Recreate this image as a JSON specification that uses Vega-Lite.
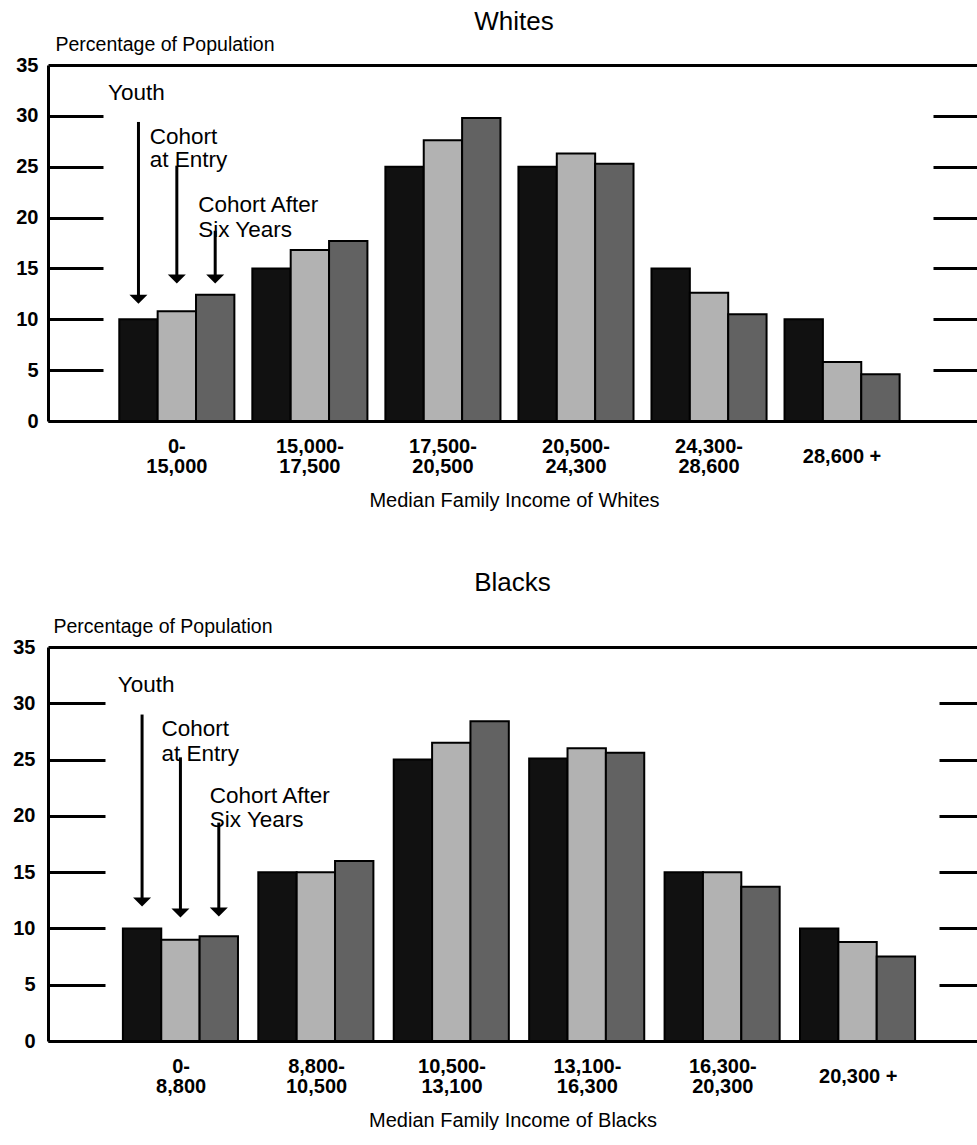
{
  "$schema": "https://vega.github.io/schema/vega-lite/v6.json",
  "background": "white",
  "padding": {"left": 12, "top": 9, "right": 0, "bottom": 0},
  "config": {
    "view": {"stroke": null},
    "font": "Liberation Sans",
    "axis": {"labelColor": "black", "titleColor": "black"},
    "title": {"color": "black"}
  },
  "datasets": {
    "whites": [
      {"income": "0-\n15,000", "group": "Youth", "pct": 10},
      {"income": "0-\n15,000", "group": "Cohort at Entry", "pct": 10.8},
      {"income": "0-\n15,000", "group": "Cohort After Six Years", "pct": 12.4},
      {"income": "15,000-\n17,500", "group": "Youth", "pct": 15},
      {"income": "15,000-\n17,500", "group": "Cohort at Entry", "pct": 16.8},
      {"income": "15,000-\n17,500", "group": "Cohort After Six Years", "pct": 17.7},
      {"income": "17,500-\n20,500", "group": "Youth", "pct": 25},
      {"income": "17,500-\n20,500", "group": "Cohort at Entry", "pct": 27.6},
      {"income": "17,500-\n20,500", "group": "Cohort After Six Years", "pct": 29.8},
      {"income": "20,500-\n24,300", "group": "Youth", "pct": 25},
      {"income": "20,500-\n24,300", "group": "Cohort at Entry", "pct": 26.3},
      {"income": "20,500-\n24,300", "group": "Cohort After Six Years", "pct": 25.3},
      {"income": "24,300-\n28,600", "group": "Youth", "pct": 15},
      {"income": "24,300-\n28,600", "group": "Cohort at Entry", "pct": 12.6},
      {"income": "24,300-\n28,600", "group": "Cohort After Six Years", "pct": 10.5},
      {"income": "28,600 +", "group": "Youth", "pct": 10},
      {"income": "28,600 +", "group": "Cohort at Entry", "pct": 5.8},
      {"income": "28,600 +", "group": "Cohort After Six Years", "pct": 4.6}
    ],
    "blacks": [
      {"income": "0-\n8,800", "group": "Youth", "pct": 10},
      {"income": "0-\n8,800", "group": "Cohort at Entry", "pct": 9.0},
      {"income": "0-\n8,800", "group": "Cohort After Six Years", "pct": 9.3},
      {"income": "8,800-\n10,500", "group": "Youth", "pct": 15},
      {"income": "8,800-\n10,500", "group": "Cohort at Entry", "pct": 15},
      {"income": "8,800-\n10,500", "group": "Cohort After Six Years", "pct": 16},
      {"income": "10,500-\n13,100", "group": "Youth", "pct": 25},
      {"income": "10,500-\n13,100", "group": "Cohort at Entry", "pct": 26.5},
      {"income": "10,500-\n13,100", "group": "Cohort After Six Years", "pct": 28.4},
      {"income": "13,100-\n16,300", "group": "Youth", "pct": 25.1},
      {"income": "13,100-\n16,300", "group": "Cohort at Entry", "pct": 26.0},
      {"income": "13,100-\n16,300", "group": "Cohort After Six Years", "pct": 25.6},
      {"income": "16,300-\n20,300", "group": "Youth", "pct": 15},
      {"income": "16,300-\n20,300", "group": "Cohort at Entry", "pct": 15},
      {"income": "16,300-\n20,300", "group": "Cohort After Six Years", "pct": 13.7},
      {"income": "20,300 +", "group": "Youth", "pct": 10},
      {"income": "20,300 +", "group": "Cohort at Entry", "pct": 8.8},
      {"income": "20,300 +", "group": "Cohort After Six Years", "pct": 7.5}
    ],
    "whitesArrows": [
      {"income": "0-\n15,000", "group": "Youth", "from": 29.4, "to": 11.98},
      {"income": "0-\n15,000", "group": "Cohort at Entry", "from": 25.1, "to": 13.95},
      {"income": "0-\n15,000", "group": "Cohort After Six Years", "from": 18.7, "to": 13.95}
    ],
    "blacksArrows": [
      {"income": "0-\n8,800", "group": "Youth", "from": 29.0, "to": 12.34},
      {"income": "0-\n8,800", "group": "Cohort at Entry", "from": 25.2, "to": 11.37},
      {"income": "0-\n8,800", "group": "Cohort After Six Years", "from": 19.4, "to": 11.46}
    ],
    "whitesNotes": [
      {"income": "0-\n15,000", "group": "Youth", "y": 32.25, "label": "Youth"},
      {"income": "0-\n15,000", "group": "Cohort at Entry", "y": 27.9, "label": "Cohort\nat Entry"},
      {"income": "0-\n15,000", "group": "Cohort After Six Years", "y": 21.25, "label": "Cohort After\nSix Years"}
    ],
    "blacksNotes": [
      {"income": "0-\n8,800", "group": "Youth", "y": 31.66, "label": "Youth"},
      {"income": "0-\n8,800", "group": "Cohort at Entry", "y": 27.7, "label": "Cohort\nat Entry"},
      {"income": "0-\n8,800", "group": "Cohort After Six Years", "y": 21.8, "label": "Cohort After\nSix Years"}
    ]
  },
  "spacing": 60,
  "vconcat": [
    {
      "width": 932,
      "height": 356,
      "title": {"text": "Whites", "fontSize": 26, "fontWeight": "normal", "anchor": "middle", "frame": "group", "offset": -1},
      "layer": [
        {
          "data": {"name": "whites"},
          "mark": {"type": "bar", "stroke": "black", "strokeWidth": 2},
          "encoding": {
            "x": {
              "field": "income", "type": "nominal", "sort": null,
              "scale": {"domain": ["0-\n15,000", "15,000-\n17,500", "17,500-\n20,500", "20,500-\n24,300", "24,300-\n28,600", "28,600 +"], "paddingInner": 0.135, "paddingOuter": 0.57, "align": 0.47},
              "axis": {
                "title": "Median Family Income of Whites",
                "labelExpr": "split(datum.label, '\\n')",
                "labelAngle": 0, "labelFontWeight": "bold", "labelFontSize": 20, "labelLineHeight": 20,
                "labelBaseline": "middle",
                "labelPadding": {"condition": {"test": "indexof(datum.value, '+') >= 0", "value": 35}, "value": 25},
                "ticks": false, "tickSize": 0,
                "domainColor": "black", "domainWidth": 3,
                "titleFontSize": 20, "titleFontWeight": "normal", "titlePadding": 14
              }
            },
            "xOffset": {"field": "group", "type": "nominal", "sort": null, "scale": {"domain": ["Youth", "Cohort at Entry", "Cohort After Six Years"], "paddingInner": 0, "paddingOuter": 0}},
            "y": {
              "field": "pct", "type": "quantitative",
              "scale": {"domain": [0, 35], "nice": false},
              "axis": {
                "values": [0, 5, 10, 15, 20, 25, 30, 35],
                "title": "Percentage of Population", "titleAngle": 0, "titleAlign": "left", "titleBaseline": "alphabetic",
                "titleX": 7, "titleY": -15, "titleFontSize": 19.5, "titleFontWeight": "normal",
                "labelFontWeight": "bold", "labelFontSize": 20, "labelPadding": 10,
                "ticks": false, "tickSize": 0, "domainColor": "black", "domainWidth": 3,
                "grid": true, "gridColor": "black", "gridWidth": 3, "gridOpacity": 1,
                "gridDash": {"condition": {"test": "datum.value == 35 || datum.value == 0", "value": []}, "value": [55, 830, 47]}
              }
            },
            "fill": {"field": "group", "type": "nominal", "scale": {"domain": ["Youth", "Cohort at Entry", "Cohort After Six Years"], "range": ["#111111", "#b2b2b2", "#626262"]}, "legend": null}
          }
        },
        {
          "data": {"name": "whitesArrows"},
          "mark": {"type": "rule", "color": "black", "strokeWidth": 3},
          "encoding": {
            "x": {"field": "income", "type": "nominal"},
            "xOffset": {"field": "group", "type": "nominal"},
            "y": {"field": "from", "type": "quantitative"},
            "y2": {"field": "to"}
          }
        },
        {
          "data": {"name": "whitesArrows"},
          "mark": {"type": "point", "shape": "M -1 -0.5 L 1 -0.5 L 0 0.5 Z", "size": 324, "filled": true, "color": "black", "opacity": 1},
          "encoding": {
            "x": {"field": "income", "type": "nominal"},
            "xOffset": {"field": "group", "type": "nominal"},
            "y": {"field": "to", "type": "quantitative"}
          }
        },
        {
          "data": {"name": "whitesNotes"},
          "transform": [{"filter": "datum.group == 'Youth'"}],
          "mark": {"type": "text", "align": "center", "baseline": "middle", "fontSize": 22.5, "color": "black", "dx": -2},
          "encoding": {
            "x": {"field": "income", "type": "nominal"},
            "xOffset": {"field": "group", "type": "nominal"},
            "y": {"field": "y", "type": "quantitative"},
            "text": {"field": "label"}
          }
        },
        {
          "data": {"name": "whitesNotes"},
          "transform": [{"filter": "datum.group == 'Cohort at Entry'"}],
          "mark": {"type": "text", "align": "left", "baseline": "middle", "fontSize": 22.5, "lineHeight": 23, "lineBreak": "\n", "color": "black", "dx": -27},
          "encoding": {
            "x": {"field": "income", "type": "nominal"},
            "xOffset": {"field": "group", "type": "nominal"},
            "y": {"field": "y", "type": "quantitative"},
            "text": {"field": "label"}
          }
        },
        {
          "data": {"name": "whitesNotes"},
          "transform": [{"filter": "datum.group == 'Cohort After Six Years'"}],
          "mark": {"type": "text", "align": "left", "baseline": "middle", "fontSize": 22.5, "lineHeight": 25, "lineBreak": "\n", "color": "black", "dx": -17},
          "encoding": {
            "x": {"field": "income", "type": "nominal"},
            "xOffset": {"field": "group", "type": "nominal"},
            "y": {"field": "y", "type": "quantitative"},
            "text": {"field": "label"}
          }
        }
      ]
    },
    {
      "width": 929,
      "height": 394,
      "title": {"text": "Blacks", "fontSize": 26, "fontWeight": "normal", "anchor": "middle", "frame": "group", "offset": 20},
      "layer": [
        {
          "data": {"name": "blacks"},
          "mark": {"type": "bar", "stroke": "black", "strokeWidth": 2},
          "encoding": {
            "x": {
              "field": "income", "type": "nominal", "sort": null,
              "scale": {"domain": ["0-\n8,800", "8,800-\n10,500", "10,500-\n13,100", "13,100-\n16,300", "16,300-\n20,300", "20,300 +"], "paddingInner": 0.14, "paddingOuter": 0.5, "align": 0.553},
              "axis": {
                "title": "Median Family Income of Blacks",
                "labelExpr": "split(datum.label, '\\n')",
                "labelAngle": 0, "labelFontWeight": "bold", "labelFontSize": 20, "labelLineHeight": 20,
                "labelBaseline": "middle",
                "labelPadding": {"condition": {"test": "indexof(datum.value, '+') >= 0", "value": 35}, "value": 25},
                "ticks": false, "tickSize": 0,
                "domainColor": "black", "domainWidth": 3,
                "titleFontSize": 20, "titleFontWeight": "normal", "titlePadding": 14
              }
            },
            "xOffset": {"field": "group", "type": "nominal", "sort": null, "scale": {"domain": ["Youth", "Cohort at Entry", "Cohort After Six Years"], "paddingInner": 0, "paddingOuter": 0}},
            "y": {
              "field": "pct", "type": "quantitative",
              "scale": {"domain": [0, 35], "nice": false},
              "axis": {
                "values": [0, 5, 10, 15, 20, 25, 30, 35],
                "title": "Percentage of Population", "titleAngle": 0, "titleAlign": "left", "titleBaseline": "alphabetic",
                "titleX": 5, "titleY": -15, "titleFontSize": 19.5, "titleFontWeight": "normal",
                "labelFontWeight": "bold", "labelFontSize": 20, "labelPadding": 13,
                "ticks": false, "tickSize": 0, "domainColor": "black", "domainWidth": 3,
                "grid": true, "gridColor": "black", "gridWidth": 3, "gridOpacity": 1,
                "gridDash": {"condition": {"test": "datum.value == 35 || datum.value == 0", "value": []}, "value": [57, 834, 38]}
              }
            },
            "fill": {"field": "group", "type": "nominal", "scale": {"domain": ["Youth", "Cohort at Entry", "Cohort After Six Years"], "range": ["#111111", "#b2b2b2", "#626262"]}, "legend": null}
          }
        },
        {
          "data": {"name": "blacksArrows"},
          "mark": {"type": "rule", "color": "black", "strokeWidth": 3},
          "encoding": {
            "x": {"field": "income", "type": "nominal"},
            "xOffset": {"field": "group", "type": "nominal"},
            "y": {"field": "from", "type": "quantitative"},
            "y2": {"field": "to"}
          }
        },
        {
          "data": {"name": "blacksArrows"},
          "mark": {"type": "point", "shape": "M -1 -0.5 L 1 -0.5 L 0 0.5 Z", "size": 324, "filled": true, "color": "black", "opacity": 1},
          "encoding": {
            "x": {"field": "income", "type": "nominal"},
            "xOffset": {"field": "group", "type": "nominal"},
            "y": {"field": "to", "type": "quantitative"}
          }
        },
        {
          "data": {"name": "blacksNotes"},
          "transform": [{"filter": "datum.group == 'Youth'"}],
          "mark": {"type": "text", "align": "center", "baseline": "middle", "fontSize": 22.5, "color": "black", "dx": 4},
          "encoding": {
            "x": {"field": "income", "type": "nominal"},
            "xOffset": {"field": "group", "type": "nominal"},
            "y": {"field": "y", "type": "quantitative"},
            "text": {"field": "label"}
          }
        },
        {
          "data": {"name": "blacksNotes"},
          "transform": [{"filter": "datum.group == 'Cohort at Entry'"}],
          "mark": {"type": "text", "align": "left", "baseline": "middle", "fontSize": 22.5, "lineHeight": 25, "lineBreak": "\n", "color": "black", "dx": -19},
          "encoding": {
            "x": {"field": "income", "type": "nominal"},
            "xOffset": {"field": "group", "type": "nominal"},
            "y": {"field": "y", "type": "quantitative"},
            "text": {"field": "label"}
          }
        },
        {
          "data": {"name": "blacksNotes"},
          "transform": [{"filter": "datum.group == 'Cohort After Six Years'"}],
          "mark": {"type": "text", "align": "left", "baseline": "middle", "fontSize": 22.5, "lineHeight": 24, "lineBreak": "\n", "color": "black", "dx": -9},
          "encoding": {
            "x": {"field": "income", "type": "nominal"},
            "xOffset": {"field": "group", "type": "nominal"},
            "y": {"field": "y", "type": "quantitative"},
            "text": {"field": "label"}
          }
        }
      ]
    }
  ]
}
